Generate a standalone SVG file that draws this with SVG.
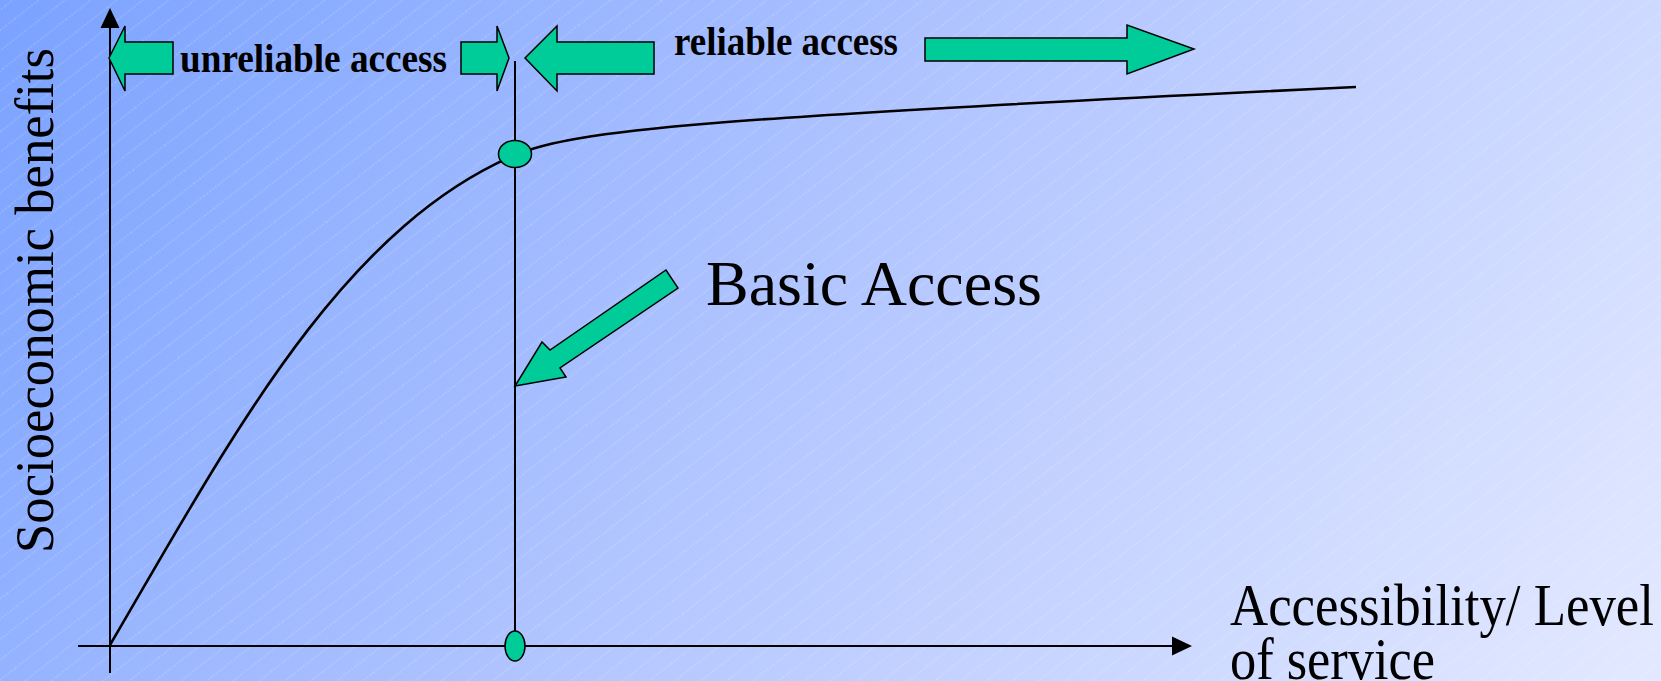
<svg xmlns="http://www.w3.org/2000/svg" width="1661" height="681" viewBox="0 0 1661 681">
<defs>
<linearGradient id="bg" gradientUnits="userSpaceOnUse" x1="0" y1="0" x2="1400" y2="1000">
<stop offset="0" stop-color="#7aa2ff"/>
<stop offset="0.5" stop-color="#b3c6ff"/>
<stop offset="1" stop-color="#e2e8ff"/>
</linearGradient>
<pattern id="hatch" patternUnits="userSpaceOnUse" width="40" height="16" patternTransform="rotate(-38)">
<line x1="0" y1="8" x2="40" y2="8" stroke="#ffffff" stroke-opacity="0.35" stroke-width="0.8" stroke-dasharray="2 1.5"/>
</pattern>
</defs>
<style>
.blk{fill:#00cc99;stroke:#000;stroke-width:1.5;stroke-linejoin:miter}
.ax{stroke:#000;stroke-width:2;fill:none}
.crv{stroke:#000;stroke-width:2.6;fill:none}
.lbl{font-family:"Liberation Serif","Times New Roman",serif;fill:#000}
.bold{font-weight:bold}
</style>
<rect width="1661" height="681" fill="url(#bg)"/>
<rect width="1661" height="681" fill="url(#hatch)"/>

<g id="connectors">
<line class="ax" x1="110" y1="673" x2="110" y2="28"/>
<polygon points="110,8 100.5,28 119.5,28" fill="#000"/>
<line class="ax" x1="78" y1="646" x2="1172" y2="646"/>
<polygon points="1192,646 1172,636.5 1172,655.5" fill="#000"/>
<line class="ax" x1="515" y1="61" x2="515" y2="660"/>
<path class="crv" d="M110,645 C230,440 340,230 515,155 C575,130 700,118 1356,87"/>
</g>

<g id="point-top"><ellipse class="blk" cx="515" cy="154" rx="16.5" ry="13.5"/></g>
<g id="point-bottom"><ellipse class="blk" cx="515" cy="646" rx="10" ry="15"/></g>

<g id="unreliable-left"><polygon class="blk" points="109,58 125,26 125,42 173,42 173,74 125,74 125,91"/></g>
<g id="unreliable-right"><polygon class="blk" points="461,42 497,42 497,26 509,58 497,91 497,74 461,74"/></g>
<g id="unreliable-label"><text class="lbl bold" x="180" y="72" font-size="40" textLength="267" lengthAdjust="spacingAndGlyphs">unreliable access</text></g>

<g id="reliable-left"><polygon class="blk" points="525,58 557,26 557,42 654,42 654,74 557,74 557,91"/></g>
<g id="reliable-right"><polygon class="blk" points="925,38 1127,38 1127,25 1194,49 1127,74 1127,61 925,61"/></g>
<g id="reliable-label"><text class="lbl bold" x="674" y="55" font-size="40" textLength="224" lengthAdjust="spacingAndGlyphs">reliable access</text></g>

<g id="basic-access-arrow"><polygon class="blk" points="515,386 566,377 560,368 678,288 666,270 550,350 542,342"/></g>
<g id="basic-access-label"><text class="lbl" x="706" y="305" font-size="63" textLength="336" lengthAdjust="spacingAndGlyphs">Basic Access</text></g>

<g id="y-label"><text class="lbl" transform="translate(53,553) rotate(-90)" font-size="54" textLength="505" lengthAdjust="spacingAndGlyphs">Socioeconomic benefits</text></g>
<g id="x-label">
<text class="lbl" x="1230" y="625" font-size="60" textLength="424" lengthAdjust="spacingAndGlyphs">Accessibility/ Level</text>
<text class="lbl" x="1230" y="679" font-size="60" textLength="205" lengthAdjust="spacingAndGlyphs">of service</text>
</g>
</svg>
